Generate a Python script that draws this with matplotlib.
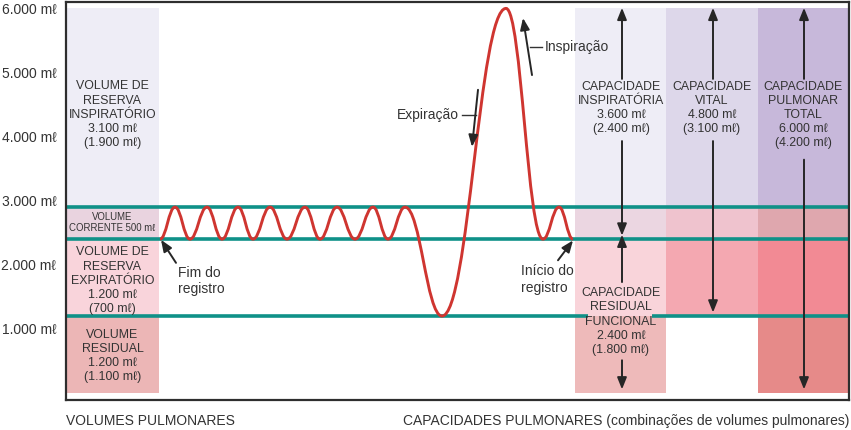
import numpy as np
import matplotlib
matplotlib.use("Agg")
from matplotlib import pyplot as plt
from matplotlib.path import Path
from matplotlib.patches import PathPatch

plt.rcParams['font.family'] = ['Liberation Sans', 'DejaVu Sans']
INK = "#333333"
TEAL = "#0f9188"
RED = "#cf3530"

# lung volume boundaries (ml): RV | ERV | TV | IRV
levels = [0, 1200, 2400, 2900, 6000]
tick_vals = [1000, 2000, 3000, 4000, 5000, 6000]
tick_labels = ["1.000 mℓ", "2.000 mℓ", "3.000 mℓ", "4.000 mℓ", "5.000 mℓ", "6.000 mℓ"]

volume_text = ["VOLUME\nRESIDUAL\n1.200 mℓ\n(1.100 mℓ)",
               "VOLUME DE\nRESERVA\nEXPIRATÓRIO\n1.200 mℓ\n(700 mℓ)",
               "VOLUME\nCORRENTE 500 mℓ",
               "VOLUME DE\nRESERVA\nINSPIRATÓRIO\n3.100 mℓ\n(1.900 mℓ)"]
volume_text_y = [580, 1750, 2660, 4340]
volume_colors = ["#ecb6b6", "#f9d4db", "#e9d3df", "#eeedf6"]

# spirogram extrema (time position, ml)
wave_t = [160, 175, 190, 207, 222, 238, 253, 270, 287, 305, 320, 337, 355, 373,
          388, 405, 442, 506, 543, 559, 573]
wave_ml = [2400, 2900, 2400, 2900, 2400, 2900, 2400, 2900, 2400, 2900, 2400, 2900,
           2400, 2900, 2400, 2900, 1200, 6000, 2400, 2900, 2400]

# capacity columns: band colours from bottom (RV, ERV, TV, IRV)
col_edges = [(575, 666), (666, 758), (758, 849)]
col_colors = [["#eebaba", "#f9d4da", "#ebd6e1", "#eeedf6"],
              ["#ffffff", "#f4a8b1", "#efc3ce", "#ddd7ea"],
              ["#e68a89", "#f28a94", "#dfa7ae", "#c7b8da"]]

cap_text = ["CAPACIDADE\nINSPIRATÓRIA\n3.600 mℓ\n(2.400 mℓ)",
            "CAPACIDADE\nRESIDUAL\nFUNCIONAL\n2.400 mℓ\n(1.800 mℓ)",
            "CAPACIDADE\nVITAL\n4.800 mℓ\n(3.100 mℓ)",
            "CAPACIDADE\nPULMONAR\nTOTAL\n6.000 mℓ\n(4.200 mℓ)"]
cap_x = [622, 622, 713, 804]
cap_text_top = [4870, 1650, 4870, 4870]
cap_span = [(2400, 6000), (0, 2400), (1200, 6000), (0, 6000)]
cap_gap = [(3930, 4900), (510, 1730), (3930, 4900), (3640, 4900)]

fig = plt.figure(figsize=(8.51, 4.30), dpi=100)
ax = fig.add_axes([66 / 851, 30 / 430, 783 / 851, 398 / 430])
ax.set_xlim(66, 849)
ax.set_ylim(-110, 6100)

# left column of volumes
for i in range(4):
    ax.fill_between([66, 159], levels[i], levels[i + 1], color=volume_colors[i], lw=0, zorder=0)
    fs = 6.9 if i == 2 else 8.9
    ax.text(112.5, volume_text_y[i], volume_text[i], ha="center", va="center",
            fontsize=fs, color=INK, linespacing=1.24 if i != 2 else 1.1, zorder=5)

# capacity columns
for c, (x0, x1) in enumerate(col_edges):
    for i in range(4):
        ax.fill_between([x0, x1], levels[i], levels[i + 1], color=col_colors[c][i], lw=0, zorder=0)

# teal level lines
ax.hlines([2400, 2900], 66, 849, color=TEAL, lw=2.6, zorder=2)
ax.hlines([1200, 1200], [66, 652], [588, 849], color=TEAL, lw=2.6, zorder=2)

# spirogram built from extrema with smooth bezier segments
verts = [(wave_t[0], wave_ml[0])]
codes = [Path.MOVETO]
for i in range(len(wave_t) - 1):
    t0, t1 = wave_t[i], wave_t[i + 1]
    d = 0.42 * (t1 - t0)
    verts += [(t0 + d, wave_ml[i]), (t1 - d, wave_ml[i + 1]), (t1, wave_ml[i + 1])]
    codes += [Path.CURVE4] * 3
ax.add_patch(PathPatch(Path(verts, codes), fill=False, ec=RED, lw=2.1, zorder=3))

arrow = dict(arrowstyle="-|>,head_length=0.7,head_width=0.28", color="#262626", lw=1.4,
             shrinkA=0, shrinkB=0)

# capacity labels and arrows
for k in range(4):
    ax.text(cap_x[k] - 1, cap_text_top[k], cap_text[k], ha="center", va="top",
            fontsize=8.9, color=INK, linespacing=1.24, zorder=5)
    lo, hi = cap_span[k]
    g_lo, g_hi = cap_gap[k]
    ax.annotate("", xy=(cap_x[k], hi + 10 if hi == 6000 else hi + 70), xytext=(cap_x[k], g_hi),
                arrowprops=arrow, zorder=4)
    ax.annotate("", xy=(cap_x[k], lo + 55), xytext=(cap_x[k], g_lo), arrowprops=arrow, zorder=4)

# annotations on the trace
ax.annotate("", xy=(523, 5850), xytext=(532, 4960), arrowprops=arrow, zorder=4)
ax.plot([530, 542], [5400, 5400], color=INK, lw=1.0)
ax.text(545, 5400, "Inspiração", ha="left", va="center", fontsize=10, color=INK)

ax.annotate("", xy=(472, 3840), xytext=(478, 4730), arrowprops=arrow, zorder=4)
ax.plot([462, 476], [4340, 4340], color=INK, lw=1.0)
ax.text(459, 4340, "Expiração", ha="right", va="center", fontsize=10, color=INK)

ax.annotate("", xy=(161, 2390), xytext=(176, 2030), arrowprops=arrow, zorder=4)
ax.text(178, 1750, "Fim do\nregistro", ha="left", va="center", fontsize=10, color=INK,
        linespacing=1.2)

ax.annotate("", xy=(573, 2380), xytext=(558, 2070), arrowprops=arrow, zorder=4)
ax.text(521, 1770, "Início do\nregistro", ha="left", va="center", fontsize=10, color=INK,
        linespacing=1.2)

# frame and axis
for s in ax.spines.values():
    s.set_color("#2e2e2e")
    s.set_linewidth(1.6)
ax.set_xticks([])
ax.set_yticks(tick_vals, tick_labels, fontsize=10, color=INK)
ax.tick_params(axis="y", length=0, pad=7)

fig.text(66 / 851, 0.021, "VOLUMES PULMONARES", ha="left", va="center", fontsize=10, color=INK)
fig.text(849 / 851, 0.021, "CAPACIDADES PULMONARES (combinações de volumes pulmonares)",
         ha="right", va="center", fontsize=10, color=INK)

fig.savefig("out.png", dpi=100)
